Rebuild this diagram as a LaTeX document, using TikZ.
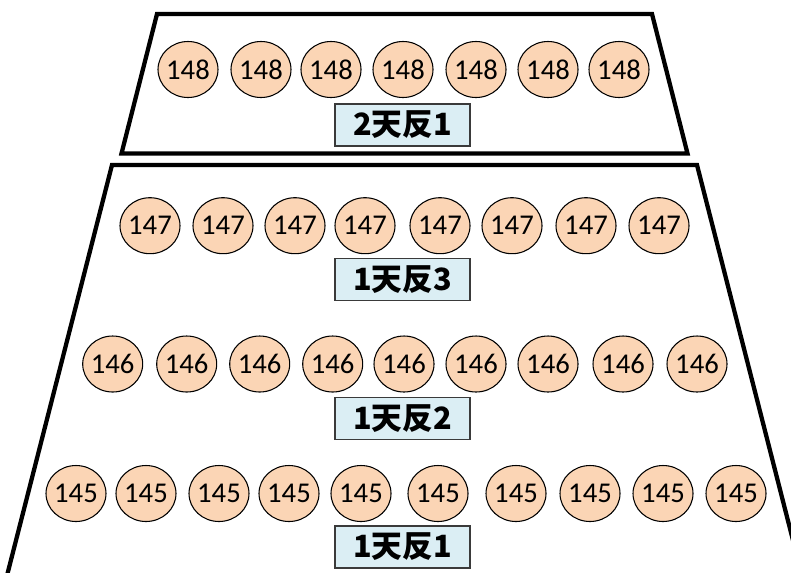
\documentclass[tikz,border=0pt]{standalone}
\usepackage{fontspec}
\setmainfont{Carlito}
\newfontfamily\cjk{Noto Sans CJK JP}
\usepackage{tikz}
\usetikzlibrary{shapes.geometric}
\definecolor{seatfill}{HTML}{FBD5B5}
\definecolor{tagfill}{HTML}{DBEEF4}
\definecolor{tagline}{HTML}{3A3A3A}

\begin{document}
\begin{tikzpicture}[x=0.75pt,y=-0.75pt,
  seat/.style={ellipse, draw=black, line width=0.8pt, fill=seatfill, inner sep=0pt,
    minimum width=45pt, minimum height=42pt, font=\fontsize{21.5}{21.5}\selectfont},
  tag/.style={draw=tagline, line width=1.1pt, fill=tagfill, inner sep=0pt,
    minimum width=101pt, minimum height=31.5pt, font=\cjk\bfseries\fontsize{23}{23}\selectfont},
  wall/.style={line width=3.2pt, line join=miter}]
\def \W {791}
\def \H {572}
\useasboundingbox (0,0) rectangle (\W,\H);
\clip (0,0) rectangle (\W,\H);
% upper block
\draw[wall] (157,14) -- (652,14) -- (687.5,153.5) -- (121.5,153.5) -- cycle;
% lower block, runs off the bottom
\draw[wall] (0.75,600) -- (112,165) -- (697,165) -- (808.25,600);
% rows of seats
\foreach \x [count=\i] in {188,261,331,403,476,548,619}
  \node[seat] (s148-\i) at (\x,69.5) {\makebox[0pt]{148}};
\foreach \x [count=\i] in {150,223,295,365,440,512,586,659}
  \node[seat] (s147-\i) at (\x,225.7) {\makebox[0pt]{147}};
\foreach \x [count=\i] in {112.7,186.7,259.7,332.7,404,476,548,623,697}
  \node[seat] (s146-\i) at (\x,364) {\makebox[0pt]{146}};
\foreach \x [count=\i] in {76,146,219,289,361,438,516,590,663,736}
  \node[seat] (s145-\i) at (\x,493.5) {\makebox[0pt]{145}};
% row tags
\node[tag] (t2f1) at (402.5,125) {2天反1};
\node[tag] (t1f3) at (402.5,279.5) {1天反3};
\node[tag] (t1f2) at (402.5,418.5) {1天反2};
\node[tag] (t1f1) at (402.5,547) {1天反1};
\end{tikzpicture}
\end{document}
